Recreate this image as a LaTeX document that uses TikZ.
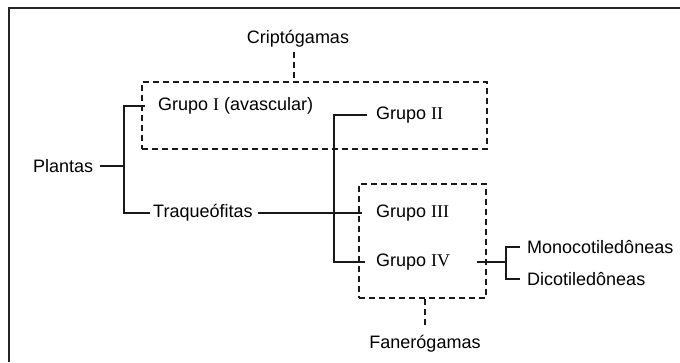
\documentclass[tikz,border=0pt]{standalone}
\usepackage{fontspec}
\setmainfont{Liberation Sans}
\newfontfamily\romfont{Liberation Serif}
\newcommand{\RN}[1]{{\romfont #1}}
\begin{document}
\begin{tikzpicture}[x=1pt,y=-1pt,
  lbl/.style={inner sep=0pt,anchor=west,font=\fontsize{18}{22}\selectfont},
  clbl/.style={inner sep=0pt,font=\fontsize{18}{22}\selectfont},
  conn/.style={line width=1.7pt,black!90},
  dsh/.style={line width=1.6pt,black!90,dash pattern=on 6pt off 4pt},
  grp/.style={draw,dsh,inner sep=0pt}
 ]
\useasboundingbox (0,0) rectangle (680,362);
\draw[line width=2pt,black!85] (9,362) -- (9,8) -- (680,8);

% groups
\node[grp, minimum width=345pt, minimum height=67pt] (box1) at (314.5,115.5) {};
\node[grp, minimum width=127pt, minimum height=114pt] (box2) at (422.5,241) {};

% labels
\node[clbl] (cripto) at (298,39) {Criptógamas};
\node[clbl] (fanero) at (425,344) {Fanerógamas};
\node[lbl] (plantas) at (33,166) {Plantas};
\node[lbl] (g1) at (158,106) {Grupo \RN{I} (avascular)};
\node[lbl] (traq) at (153,213) {Traqueófitas};
\node[lbl] (g2) at (376,115) {Grupo \RN{II}};
\node[lbl] (g3) at (376,213) {Grupo \RN{III}};
\node[lbl] (g4) at (376,262) {Grupo \RN{IV}};
\node[lbl] (mono) at (527,247) {Monocotiledôneas};
\node[lbl] (dico) at (527,279) {Dicotiledôneas};

% connectors
\coordinate (b1) at (124,166);
\draw[conn,shorten <=7pt] (plantas.east) -- (b1);
\draw[conn,shorten >=13pt] (b1) |- (g1.west);
\draw[conn,shorten >=3pt] (b1) |- (traq.west);
\draw[conn,shorten <=5pt,shorten >=14pt] (traq.east) -- (g3.west);
\coordinate (b2) at (334,213);
\draw[conn,shorten >=9pt] (b2) |- (g2.west);
\draw[conn,shorten >=11pt] (b2) |- (g4.west);
\coordinate (b3) at (506,262);
\draw[conn,shorten <=27pt] (g4.east) -- (b3);
\draw[conn,shorten >=7pt] (b3) |- (mono.west);
\draw[conn,shorten >=7pt] (b3) |- (dico.west);

% dashed links to group labels
\coordinate (ct) at (294,52);
\draw[dsh] (ct) -- (ct |- box1.north);
\draw[dsh,shorten >=9pt] (box2.south -| fanero.north) -- (fanero.north);
\end{tikzpicture}
\end{document}
